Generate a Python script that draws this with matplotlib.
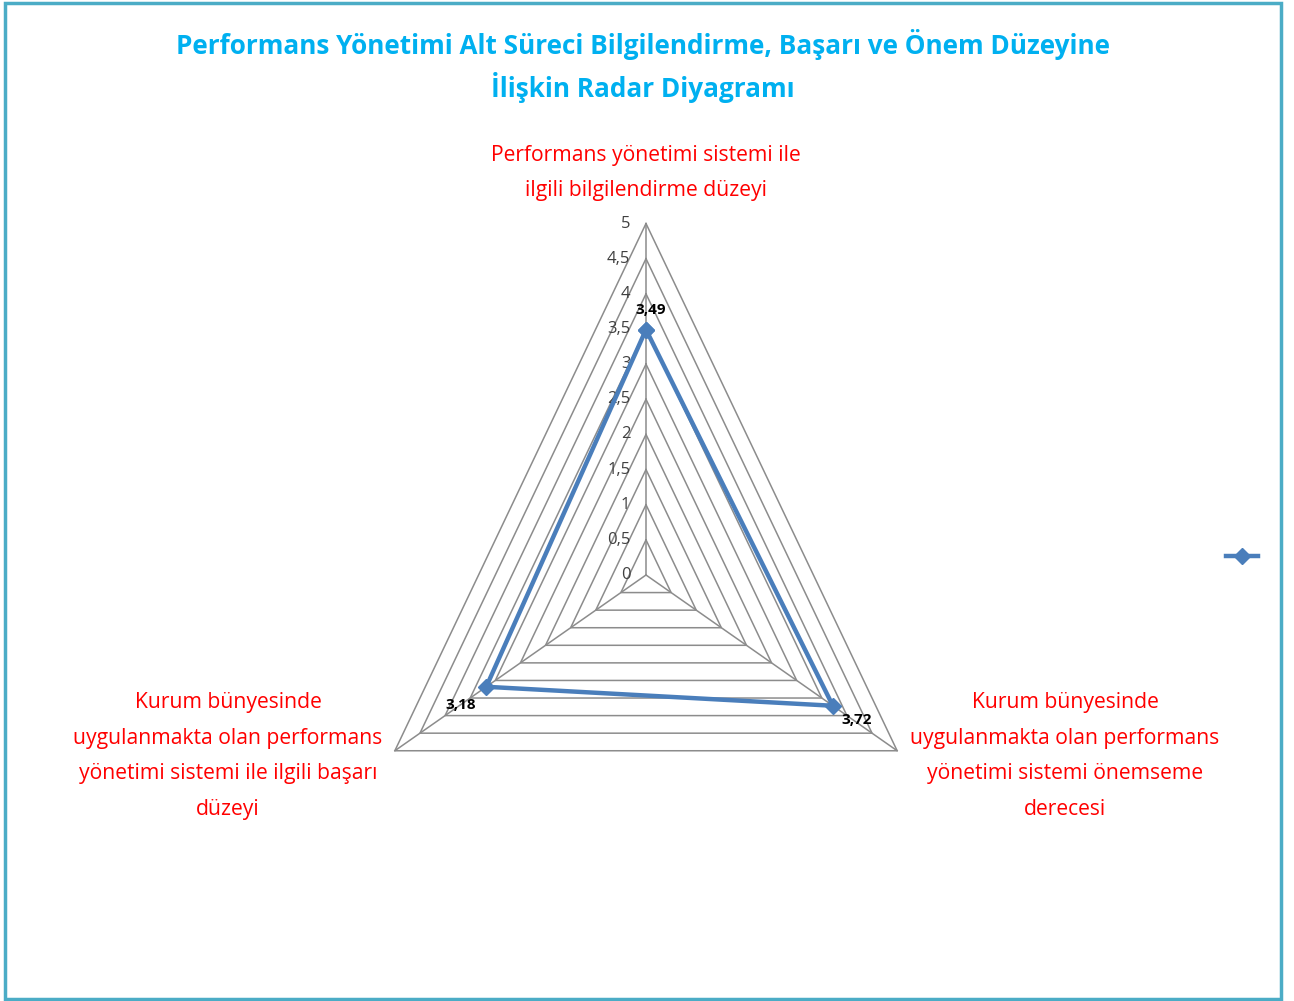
import numpy as np
import matplotlib.pyplot as plt
from matplotlib.patches import Rectangle

# ---------------- data ----------------
categories = ["Performans yönetimi sistemi ile\nilgili bilgilendirme düzeyi",
              "Kurum bünyesinde\nuygulanmakta olan performans\nyönetimi sistemi önemseme\nderecesi",
              "Kurum bünyesinde\nuygulanmakta olan performans\nyönetimi sistemi ile ilgili başarı\ndüzeyi"]
values = [3.49, 3.72, 3.18]
value_labels = ["3,49", "3,72", "3,18"]
levels = [0, 0.5, 1, 1.5, 2, 2.5, 3, 3.5, 4, 4.5, 5]
level_labels = ["0", "0,5", "1", "1,5", "2", "2,5", "3", "3,5", "4", "4,5", "5"]
title = "Performans Yönetimi Alt Süreci Bilgilendirme, Başarı ve Önem Düzeyine\nİlişkin Radar Diyagramı"

W, H = 1294, 1001
plt.rcParams['font.family'] = ['Open Sans', 'DejaVu Sans']
fig = plt.figure(figsize=(W / 100, H / 100), dpi=100)
ax = fig.add_axes([0, 0, 1, 1])
ax.axis('off')

# pixel mapping: centre at (646, 575), 58 px/unit in x, 70.3 px/unit in y
cx, cy, sx, sy = 646, 575, 58.0, 70.3
ax.set_xlim(-cx / sx, (W - cx) / sx)
ax.set_ylim((cy - H) / sy, cy / sy)

ang = np.deg2rad([0, 120, 240])

def pts(r):
    r = np.asarray(r, dtype=float)
    return r * np.sin(ang), r * np.cos(ang)

gridc = '#8c8c8c'
for lv in levels[1:]:
    x, y = pts([lv] * 3)
    ax.plot(np.append(x, x[0]), np.append(y, y[0]), color=gridc, lw=1.1, zorder=1)
xs, ys = pts([5] * 3)
for i in range(3):
    ax.plot([0, xs[i]], [0, ys[i]], color=gridc, lw=1.1, zorder=1)

for lv, lab in zip(levels, level_labels):
    ax.text(-0.27, lv, lab, ha='right', va='center', fontsize=12, color='#404040')

x, y = pts(values)
blue = '#4a7ebb'
ax.plot(np.append(x, x[0]), np.append(y, y[0]), color=blue, lw=3.2,
        marker='D', markersize=8, zorder=3, label=' ')

offs = [(5, 20), (24, -14), (-26, -18)]
for xi, yi, lab, o in zip(x, y, value_labels, offs):
    ax.annotate(lab, (xi, yi), xytext=o, textcoords='offset pixels',
                ha='center', va='center', fontsize=11, fontweight='bold', color='black')

red = '#ff0000'
fig.text(646 / W, 1 - 173 / H, categories[0], ha='center', va='center',
         fontsize=15.2, color=red, linespacing=1.9)
fig.text(1065 / W, 1 - 756 / H, categories[1], ha='center', va='center',
         fontsize=15.2, color=red, linespacing=1.9)
fig.text(228 / W, 1 - 756 / H, categories[2], ha='center', va='center',
         fontsize=15.2, color=red, linespacing=1.9)

fig.text(643 / W, 1 - 66 / H, title, ha='center', va='center', fontsize=18.8,
         fontweight='bold', color='#00b0f0', linespacing=1.5)

leg = ax.legend(loc='center', bbox_to_anchor=(1244 / W, 1 - 557 / H),
                bbox_transform=fig.transFigure, frameon=False,
                handlelength=2.3, handletextpad=0, fontsize=10)

fig.patches.append(Rectangle((5 / W, 2 / H), 1276 / W, 996 / H, transform=fig.transFigure,
                             fill=False, edgecolor='#4bacc6', lw=2.5))

fig.savefig('out.png', dpi=100)
